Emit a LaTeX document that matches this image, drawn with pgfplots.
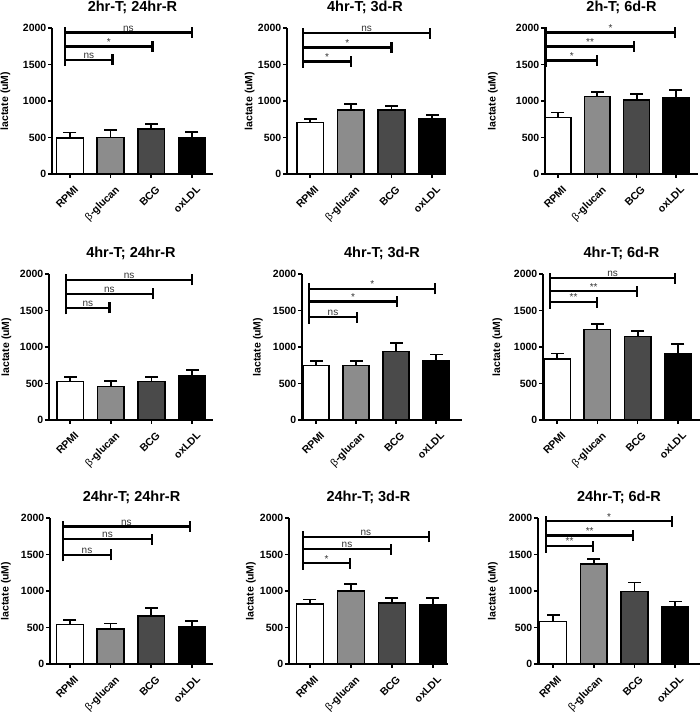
\documentclass[border=0pt]{standalone}
\usepackage{fontspec}
\setmainfont{Liberation Sans}
\usepackage{pgfplots}
\pgfplotsset{compat=1.18}
\usetikzlibrary{calc}
\definecolor{gB}{HTML}{8C8C8C}
\definecolor{gC}{HTML}{4A4A4A}
\definecolor{nsc}{HTML}{333333}
\pgfplotsset{
  panel/.style={
    scale only axis, height=146pt, anchor=south west,
    ymin=0, ymax=2000, ytick={0,500,1000,1500,2000},
    xtick={0,1,2,3},
    xticklabels={RPMI,{{\mdseries β}-glucan},BCG,oxLDL},
    axis lines=left, axis line style={-, line width=1.6pt},
    tick align=outside, major tick length=4pt,
    tick style={line width=1.6pt, black},
    clip=false,
    /pgf/number format/assume math mode=true,
    /pgf/number format/1000 sep={},
    yticklabel style={font=\bfseries\fontsize{10.5}{10.5}\selectfont, inner sep=1.5pt},
    xticklabel style={font=\bfseries\fontsize{10.5}{10.5}\selectfont, rotate=45, anchor=north east, inner xsep=0pt, inner ysep=5.5pt},
    xticklabel shift=3pt,
    ylabel={lactate (uM)},
    title style={at={(axis description cs:0.5,1)}, anchor=center, yshift=15pt, font=\bfseries\fontsize{14.5}{14.5}\selectfont},
  },
  ylab/.style={ylabel style={at={(axis description cs:#1,0.5)}, anchor=center, font=\bfseries\fontsize{10.5}{10.5}\selectfont}},
  bb/.style={ybar, bar width=0.66, bar shift=0pt, draw=black, line width=1.6pt, forget plot},
  ebs/.style={black, line width=1.8pt, mark=-, mark indices={2}, mark size=6.5pt, mark options={line width=1.8pt, solid}, forget plot},
}
\tikzset{br/.style={line width=2.3pt, black},
  sigl/.style={anchor=south, inner sep=1pt, text=nsc, font=\fontsize{10}{10}\selectfont}}
% \bars{mean0}{cap0}{mean1}{cap1}{mean2}{cap2}{mean3}{cap3}  (cap = mean + error)
\newcommand{\bars}[8]{%
  \addplot[bb, fill=white] coordinates {(0,#1)};
  \addplot[bb, fill=gB] coordinates {(1,#3)};
  \addplot[bb, fill=gC] coordinates {(2,#5)};
  \addplot[bb, fill=black] coordinates {(3,#7)};
  \addplot[ebs] coordinates {(0,#1) (0,#2)};
  \addplot[ebs] coordinates {(1,#3) (1,#4)};
  \addplot[ebs] coordinates {(2,#5) (2,#6)};
  \addplot[ebs] coordinates {(3,#7) (3,#8)};}
\newcommand{\brk}[4]{%
  \draw[br] (axis cs:#1,#3) -- (axis cs:#2,#3);
  \draw[br] ([yshift=-5.5pt]axis cs:#2,#3) -- ([yshift=5.5pt]axis cs:#2,#3);
  \node[sigl] at ($(axis cs:#1,#3)!0.5!(axis cs:#2,#3)$) {#4};}
\newcommand{\lft}[3]{%
  \draw[br] ([yshift=-6.5pt]axis cs:#1,#2) -- ([yshift=5.5pt]axis cs:#1,#3);}
\begin{document}
\begin{tikzpicture}
\useasboundingbox (0,0) rectangle (700pt,712pt);
% Row 1
\begin{axis}[panel, at={(52pt,538pt)}, width=161pt, xmin=-0.44, xmax=3.52, title={2hr-T; 24hr-R}, ylab=-0.29]
\bars{491}{568}{500}{605}{618}{686}{500}{573}
\lft{-0.12}{1565}{1940}
\brk{-0.12}{1.05}{1565}{ns}
\brk{-0.12}{2.03}{1748}{*}
\brk{-0.12}{3.0}{1940}{ns}
\end{axis}
\begin{axis}[panel, at={(287pt,538pt)}, width=156pt, xmin=-0.57, xmax=3.27, title={4hr-T; 3d-R}, ylab=-0.24]
\bars{705}{750}{877}{959}{877}{936}{755}{805}
\lft{-0.17}{1542}{1931}
\brk{-0.17}{1.0}{1542}{*}
\brk{-0.17}{2.0}{1734}{*}
\brk{-0.17}{2.95}{1931}{ns}
\end{axis}
\begin{axis}[panel, at={(545pt,538pt)}, width=153pt, xmin=-0.33, xmax=3.56, title={2h-T; 6d-R}, ylab=-0.34]
\bars{773}{841}{1064}{1127}{1014}{1091}{1041}{1150}
\lft{-0.3}{1556}{1940}
\brk{-0.3}{1.0}{1556}{*}
\brk{-0.3}{1.93}{1748}{**}
\brk{-0.3}{2.98}{1940}{*}
\end{axis}
% Row 2
\begin{axis}[panel, at={(49pt,292pt)}, width=164pt, xmin=-0.52, xmax=3.51, title={4hr-T; 24hr-R}, ylab=-0.26]
\bars{525}{589}{460}{534}{525}{584}{603}{686}
\lft{-0.1}{1536}{1918}
\brk{-0.1}{0.97}{1536}{ns}
\brk{-0.1}{2.03}{1727}{ns}
\brk{-0.1}{3.0}{1918}{ns}
\end{axis}
\begin{axis}[panel, at={(302pt,292pt)}, width=160pt, xmin=-0.35, xmax=3.65, title={4hr-T; 3d-R}, ylab=-0.275]
\bars{745}{810}{745}{810}{939}{1054}{810}{897}
\lft{-0.17}{1409}{1795}
\brk{-0.17}{1.02}{1409}{ns}
\brk{-0.17}{2.02}{1623}{*}
\brk{-0.17}{2.98}{1795}{*}
\end{axis}
\begin{axis}[panel, at={(543pt,292pt)}, width=157pt, xmin=-0.35, xmax=3.55, title={4hr-T; 6d-R}, ylab=-0.29]
\bars{833}{911}{1242}{1320}{1146}{1224}{911}{1044}
\lft{-0.17}{1614}{1945}
\brk{-0.17}{0.99}{1614}{**}
\brk{-0.17}{1.99}{1764}{**}
\brk{-0.17}{2.93}{1945}{ns}
\end{axis}
% Row 3
\begin{axis}[panel, at={(50pt,48pt)}, width=163pt, xmin=-0.49, xmax=3.52, title={24hr-T; 24hr-R}, ylab=-0.27]
\bars{541}{601}{480}{555}{656}{763}{509}{592}
\lft{-0.17}{1494}{1885}
\brk{-0.17}{1.01}{1494}{ns}
\brk{-0.17}{2.02}{1710}{ns}
\brk{-0.17}{2.95}{1885}{ns}
\end{axis}
\begin{axis}[panel, at={(289pt,48pt)}, width=159pt, xmin=-0.51, xmax=3.37, title={24hr-T; 3d-R}, ylab=-0.24]
\bars{823}{883}{1000}{1093}{837}{907}{805}{907}
\lft{-0.17}{1379}{1743}
\brk{-0.17}{0.98}{1379}{*}
\brk{-0.17}{1.98}{1572}{ns}
\brk{-0.17}{2.9}{1743}{ns}
\end{axis}
\begin{axis}[panel, at={(538pt,48pt)}, width=162pt, xmin=-0.37, xmax=3.61, title={24hr-T; 6d-R}, ylab=-0.278]
\bars{581}{674}{1368}{1433}{995}{1116}{781}{856}
\lft{-0.17}{1614}{1955}
\brk{-0.17}{0.98}{1614}{**}
\brk{-0.17}{1.97}{1759}{**}
\brk{-0.17}{2.92}{1955}{*}
\end{axis}
\end{tikzpicture}
\end{document}
